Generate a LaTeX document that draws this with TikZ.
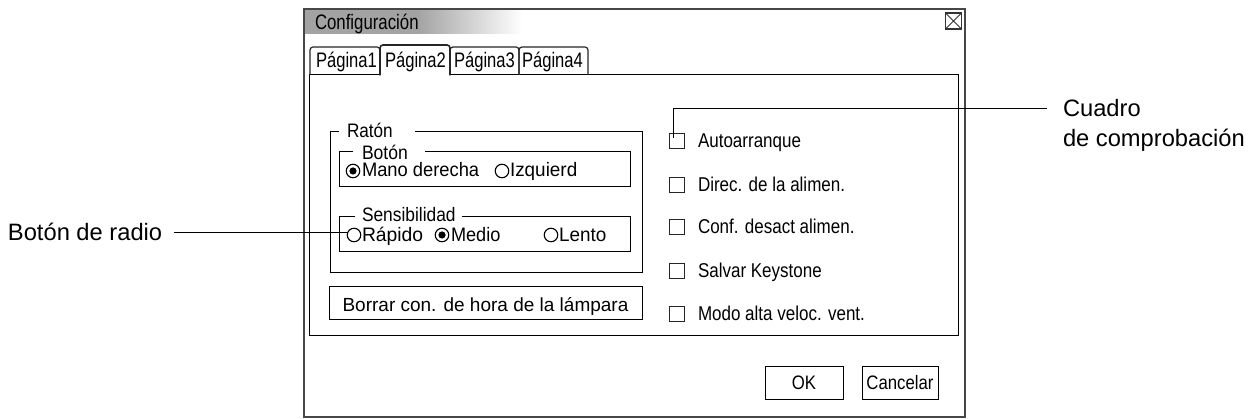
\documentclass[tikz,border=0pt]{standalone}
\usepackage{fontspec}
\setmainfont{Liberation Sans}
\usepackage{graphicx}
\newcommand\hsq[2]{\scalebox{#1}[1]{#2}}
\definecolor{tgray}{gray}{0.64}
\begin{document}
\begin{tikzpicture}[x=1pt,y=-1pt,
  every node/.style={inner sep=0pt, outer sep=0pt},
  big/.style={font=\fontsize{23.7}{28}\selectfont},
  ttl/.style={font=\fontsize{21}{25}\selectfont},
  cbt/.style={font=\fontsize{20}{24}\selectfont},
  ui/.style={font=\fontsize{19.5}{23}\selectfont},
  win/.style={draw=black!72, line width=1.6pt},
  thin/.style={draw=black, line width=1pt},
  tabline/.style={draw=black!85, line width=1.2pt, rounded corners=3pt},
  chk/.style={draw=black!85, line width=1pt, rectangle, minimum size=15pt},
  radio/.style={draw=black, line width=1.1pt, circle, minimum size=13.5pt},
  radioon/.style={radio, path picture={\fill[black] (path picture bounding box.center) circle (3.6pt);}},
  btn/.style={draw=black, line width=1pt, rectangle},
  leader/.style={draw=black, line width=1pt}]
\useasboundingbox (0,0) rectangle (1256,419);

% window and title bar
\fill[white] (304,9) rectangle (965,417);
\fill[tgray] (305,10) rectangle (418,34);
\shade[left color=tgray, right color=white] (418,10) rectangle (522,34);
\draw[win] (304,9) rectangle (965,417);
\node[ttl, anchor=base west] (title) at (315,30) {\hsq{0.8}{Configuración}};
\node[draw=black!80, line width=1.2pt, rectangle, minimum size=16pt,
  path picture={\draw[line width=1pt] (path picture bounding box.south west) -- (path picture bounding box.north east)
  (path picture bounding box.north west) -- (path picture bounding box.south east);}] (close) at (953.5,21) {};

% panel
\node[thin, rectangle, minimum width=649pt, minimum height=261pt] (panel) at (633.5,205.5) {};

% tabs
\draw[tabline] (310,75) -- (310,47) -- (380,47) -- (380,75);
\draw[tabline] (519,75) -- (519,47) -- (588,47) -- (588,75);
\draw[tabline] (450,75) -- (450,47) -- (519,47) -- (519,75);
\fill[white] (381,73.5) rectangle (449,76.5);
\draw[tabline, line width=1.6pt] (380,75.5) -- (380,45) -- (450,45) -- (450,75.5);
\node[ttl, anchor=base west] (tab1) at (316,68) {\hsq{0.79}{Página1}};
\node[ttl, anchor=base west] (tab2) at (385,68) {\hsq{0.79}{Página2}};
\node[ttl, anchor=base west] (tab3) at (454,68) {\hsq{0.79}{Página3}};
\node[ttl, anchor=base west] (tab4) at (522,68) {\hsq{0.79}{Página4}};

% Raton group
\draw[thin] (339,132) -- (330,132) -- (330,273) -- (642,273) -- (642,132) -- (415,132);
\node[ui, anchor=base west] (raton) at (347,138) {\hsq{0.88}{Ratón}};
% Boton group
\draw[thin] (353,152) -- (339,152) -- (339,187) -- (630,187) -- (630,152) -- (425,152);
\node[ui, anchor=base west] (boton) at (362,160) {\hsq{0.9}{Botón}};
\node[radioon] (mano) at (353,171) {};
\node[ui, anchor=base west] (manot) at (362,177) {\hsq{0.94}{Mano derecha}};
\node[radio] (izq) at (502,171) {};
\node[ui, anchor=base west] (izqt) at (510,177) {\hsq{0.97}{Izquierd}};
% Sensibilidad group
\draw[thin] (355,217) -- (339,217) -- (339,252) -- (630,252) -- (630,217) -- (462,217);
\node[ui, anchor=base west] (sens) at (362,222) {\hsq{0.89}{Sensibilidad}};
\node[radio] (rap) at (354,235) {};
\node[ui, anchor=base west] (rapt) at (362,242) {\hsq{0.99}{Rápido}};
\node[radioon] (med) at (442,235) {};
\node[ui, anchor=base west] (medt) at (451,242) {\hsq{0.93}{Medio}};
\node[radio] (len) at (551,235) {};
\node[ui, anchor=base west] (lent) at (559,242) {\hsq{0.97}{Lento}};

% Borrar button
\node[btn, ui, font=\fontsize{19}{23}\selectfont, minimum width=313pt, minimum height=33pt,
  text height=17pt, text depth=0pt] (borrar) at (485.5,303.5) {Borrar con. de hora de la lámpara};

% checkboxes
\foreach \i/\yy/\t in {1/141/Autoarranque, 2/185/Direc. de la alimen., 3/227/Conf. desact alimen.,
  4/271/Salvar Keystone, 5/314/Modo alta veloc. vent.}{
  \node[chk] (cb\i) at (676.5,\yy) {};
  \node[cbt, anchor=base west] (cbt\i) at (698,\yy+7) {\hsq{0.85}{\t}};
}

% OK / Cancelar
\node[btn, ui, minimum width=78pt, minimum height=33pt, text height=13pt, text depth=0pt] (ok) at (804,383.5) {\hsq{0.86}{OK}};
\node[btn, ui, minimum width=76pt, minimum height=33pt, text height=13pt, text depth=0pt] (cancel) at (900,383.5) {\hsq{0.86}{Cancelar}};

% outside labels
\node[big, anchor=base west] (radioLbl) at (8,241) {Botón de radio};
\node[big, anchor=base west] (cuadro) at (1063,117) {Cuadro};
\node[big, anchor=base west] (cuadro2) at (1063,147) {de comprobación};

% leaders
\draw[leader] ([xshift=12pt]radioLbl.east) -- (radioLbl.east -| rap.west);
\draw[leader] ([xshift=-16pt]cuadro.west) -| ([xshift=-3.5pt,yshift=3pt]cb1.center);
\end{tikzpicture}
\end{document}
